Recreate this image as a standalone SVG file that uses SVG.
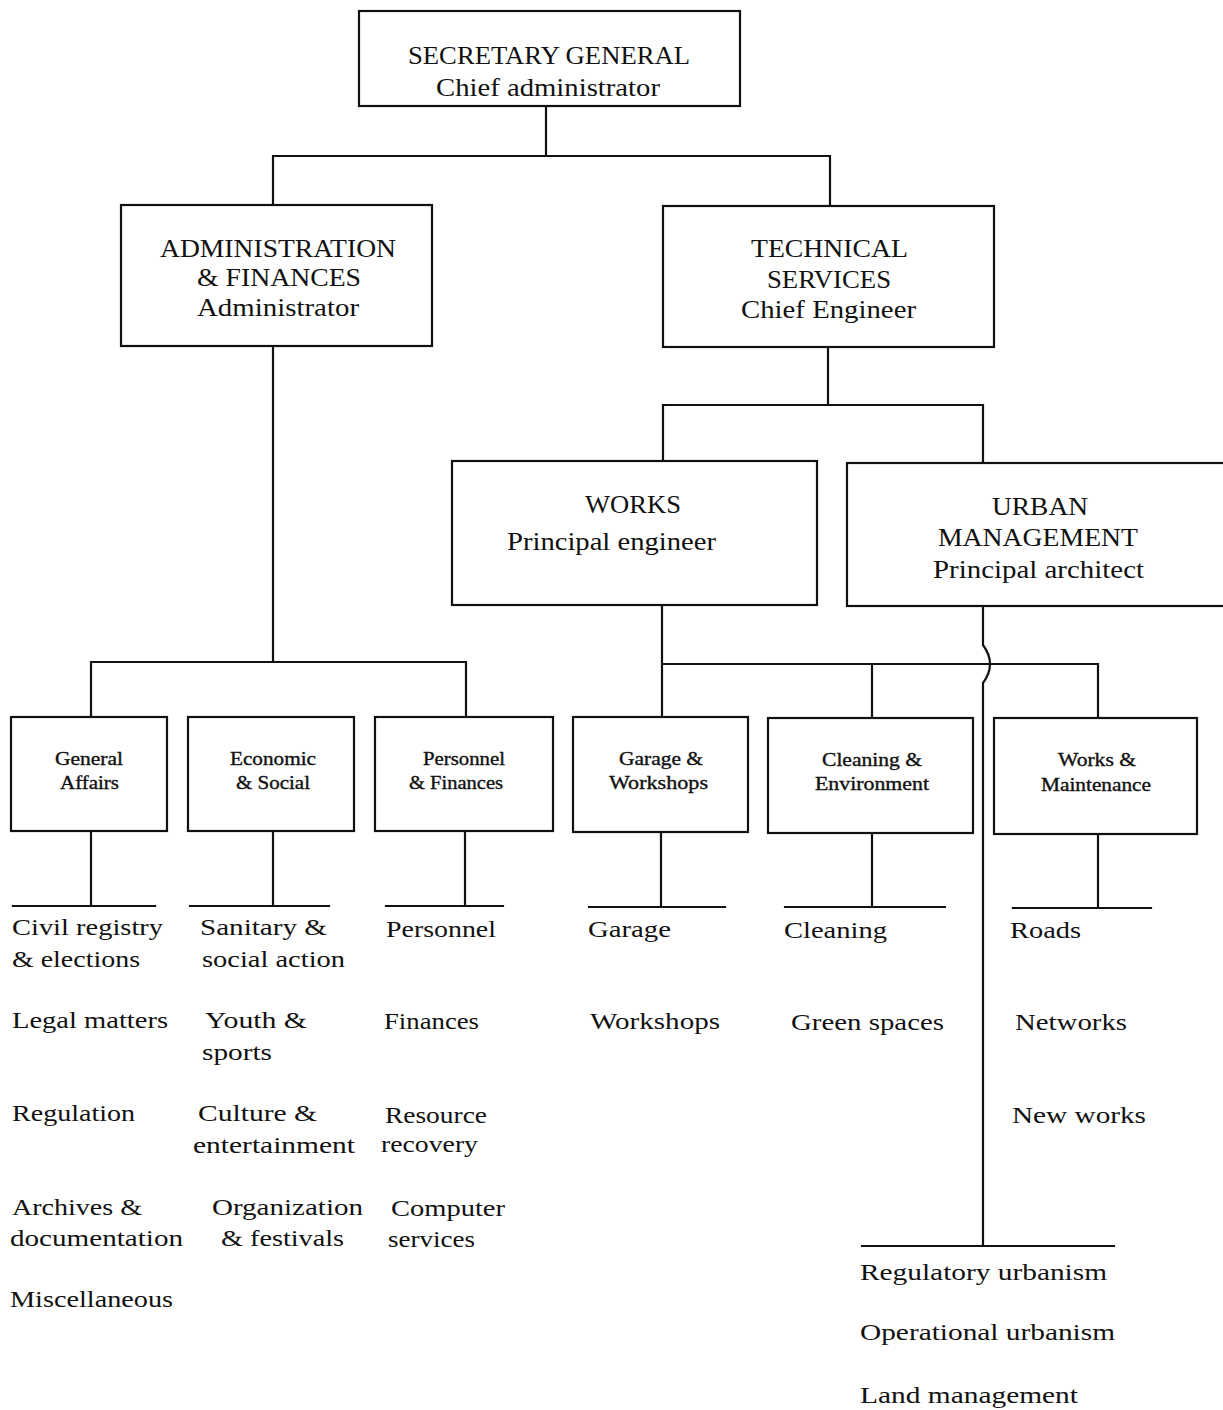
<svg xmlns="http://www.w3.org/2000/svg" width="1223" height="1410" viewBox="0 0 1223 1410">
<style>
.box{fill:#fff;stroke:#111;stroke-width:2.2}
.ln{fill:none;stroke:#111;stroke-width:2.2;stroke-linecap:square}
text{font-family:"Liberation Serif","Times New Roman",serif;fill:#111}
.h{font-size:26px}
.s{font-size:18px;stroke:#111;stroke-width:0.35}
.l{font-size:24px}
</style>
<rect width="1223" height="1410" fill="#fff"/>
<g id="connectors">
<path class="ln" d="M546,106 V156 M273,156 H830 M273,156 V205 M830,156 V206"/>
<path class="ln" d="M828,347 V405 M663,405 H983 M663,405 V461 M983,405 V463"/>
<path class="ln" d="M273,346 V662 M91,662 H466 M91,662 V717 M466,662 V717"/>
<path class="ln" d="M662,605 V717 M662,664 H1098 M872,664 V718 M1098,664 V718"/>
<path class="ln" d="M983,606 V645 Q997,664 983,683 V1246 M862,1246 H1114"/>
<path class="ln" d="M91,831 V906 M13,906 H155"/>
<path class="ln" d="M273,831 V906 M190,906 H329"/>
<path class="ln" d="M465,831 V906 M386,906 H503"/>
<path class="ln" d="M661,832 V907 M589,907 H725"/>
<path class="ln" d="M872,833 V907 M785,907 H945"/>
<path class="ln" d="M1098,834 V908 M1013,908 H1151"/>
</g>
<g id="secretary-general">
<rect class="box" x="359" y="11" width="381" height="95"/>
<text class="h" x="408" y="64" textLength="282" lengthAdjust="spacingAndGlyphs">SECRETARY GENERAL</text>
<text class="h" x="436" y="96" textLength="224" lengthAdjust="spacingAndGlyphs">Chief administrator</text>
</g>
<g id="admin-finances">
<rect class="box" x="121" y="205" width="311" height="141"/>
<text class="h" x="160" y="257" textLength="236" lengthAdjust="spacingAndGlyphs">ADMINISTRATION</text>
<text class="h" x="197" y="286" textLength="164" lengthAdjust="spacingAndGlyphs">&amp; FINANCES</text>
<text class="h" x="197" y="316" textLength="162" lengthAdjust="spacingAndGlyphs">Administrator</text>
</g>
<g id="technical-services">
<rect class="box" x="663" y="206" width="331" height="141"/>
<text class="h" x="751" y="257" textLength="157" lengthAdjust="spacingAndGlyphs">TECHNICAL</text>
<text class="h" x="767" y="288" textLength="124" lengthAdjust="spacingAndGlyphs">SERVICES</text>
<text class="h" x="741" y="318" textLength="175" lengthAdjust="spacingAndGlyphs">Chief Engineer</text>
</g>
<g id="works">
<rect class="box" x="452" y="461" width="365" height="144"/>
<text class="h" x="585" y="513" textLength="96" lengthAdjust="spacingAndGlyphs">WORKS</text>
<text class="h" x="507" y="550" textLength="209" lengthAdjust="spacingAndGlyphs">Principal engineer</text>
</g>
<g id="urban-management">
<rect class="box" x="847" y="463" width="392" height="143"/>
<text class="h" x="992" y="515" textLength="96" lengthAdjust="spacingAndGlyphs">URBAN</text>
<text class="h" x="938" y="546" textLength="200" lengthAdjust="spacingAndGlyphs">MANAGEMENT</text>
<text class="h" x="933" y="578" textLength="211" lengthAdjust="spacingAndGlyphs">Principal architect</text>
</g>
<g id="general-affairs">
<rect class="box" x="11" y="717" width="156" height="114"/>
<text class="s" x="55" y="765" textLength="68" lengthAdjust="spacingAndGlyphs">General</text>
<text class="s" x="60" y="789" textLength="59" lengthAdjust="spacingAndGlyphs">Affairs</text>
</g>
<g id="economic-social">
<rect class="box" x="188" y="717" width="166" height="114"/>
<text class="s" x="230" y="765" textLength="86" lengthAdjust="spacingAndGlyphs">Economic</text>
<text class="s" x="236" y="789" textLength="74" lengthAdjust="spacingAndGlyphs">&amp; Social</text>
</g>
<g id="personnel-finances">
<rect class="box" x="375" y="717" width="178" height="114"/>
<text class="s" x="423" y="765" textLength="82" lengthAdjust="spacingAndGlyphs">Personnel</text>
<text class="s" x="409" y="789" textLength="94" lengthAdjust="spacingAndGlyphs">&amp; Finances</text>
</g>
<g id="garage-workshops">
<rect class="box" x="573" y="717" width="175" height="115"/>
<text class="s" x="619" y="765" textLength="84" lengthAdjust="spacingAndGlyphs">Garage &amp;</text>
<text class="s" x="609" y="789" textLength="99" lengthAdjust="spacingAndGlyphs">Workshops</text>
</g>
<g id="cleaning-environment">
<rect class="box" x="768" y="718" width="205" height="115"/>
<text class="s" x="822" y="766" textLength="100" lengthAdjust="spacingAndGlyphs">Cleaning &amp;</text>
<text class="s" x="815" y="790" textLength="114" lengthAdjust="spacingAndGlyphs">Environment</text>
</g>
<g id="works-maintenance">
<rect class="box" x="994" y="718" width="203" height="116"/>
<text class="s" x="1058" y="766" textLength="78" lengthAdjust="spacingAndGlyphs">Works &amp;</text>
<text class="s" x="1041" y="791" textLength="110" lengthAdjust="spacingAndGlyphs">Maintenance</text>
</g>
<g id="list-general-affairs">
<text class="l" x="12" y="935" textLength="151" lengthAdjust="spacingAndGlyphs">Civil registry</text>
<text class="l" x="12" y="967" textLength="128" lengthAdjust="spacingAndGlyphs">&amp; elections</text>
<text class="l" x="12" y="1028" textLength="156" lengthAdjust="spacingAndGlyphs">Legal matters</text>
<text class="l" x="12" y="1121" textLength="123" lengthAdjust="spacingAndGlyphs">Regulation</text>
<text class="l" x="12" y="1215" textLength="130" lengthAdjust="spacingAndGlyphs">Archives &amp;</text>
<text class="l" x="10" y="1246" textLength="173" lengthAdjust="spacingAndGlyphs">documentation</text>
<text class="l" x="10" y="1307" textLength="163" lengthAdjust="spacingAndGlyphs">Miscellaneous</text>
</g>
<g id="list-economic-social">
<text class="l" x="200" y="935" textLength="127" lengthAdjust="spacingAndGlyphs">Sanitary &amp;</text>
<text class="l" x="202" y="967" textLength="143" lengthAdjust="spacingAndGlyphs">social action</text>
<text class="l" x="205" y="1028" textLength="102" lengthAdjust="spacingAndGlyphs">Youth &amp;</text>
<text class="l" x="202" y="1060" textLength="70" lengthAdjust="spacingAndGlyphs">sports</text>
<text class="l" x="198" y="1121" textLength="119" lengthAdjust="spacingAndGlyphs">Culture &amp;</text>
<text class="l" x="193" y="1153" textLength="162" lengthAdjust="spacingAndGlyphs">entertainment</text>
<text class="l" x="212" y="1215" textLength="151" lengthAdjust="spacingAndGlyphs">Organization</text>
<text class="l" x="221" y="1246" textLength="123" lengthAdjust="spacingAndGlyphs">&amp; festivals</text>
</g>
<g id="list-personnel-finances">
<text class="l" x="386" y="937" textLength="110" lengthAdjust="spacingAndGlyphs">Personnel</text>
<text class="l" x="384" y="1029" textLength="95" lengthAdjust="spacingAndGlyphs">Finances</text>
<text class="l" x="385" y="1123" textLength="102" lengthAdjust="spacingAndGlyphs">Resource</text>
<text class="l" x="381" y="1152" textLength="97" lengthAdjust="spacingAndGlyphs">recovery</text>
<text class="l" x="391" y="1216" textLength="114" lengthAdjust="spacingAndGlyphs">Computer</text>
<text class="l" x="388" y="1247" textLength="87" lengthAdjust="spacingAndGlyphs">services</text>
</g>
<g id="list-garage-workshops">
<text class="l" x="588" y="937" textLength="83" lengthAdjust="spacingAndGlyphs">Garage</text>
<text class="l" x="590" y="1029" textLength="130" lengthAdjust="spacingAndGlyphs">Workshops</text>
</g>
<g id="list-cleaning-environment">
<text class="l" x="784" y="938" textLength="103" lengthAdjust="spacingAndGlyphs">Cleaning</text>
<text class="l" x="791" y="1030" textLength="153" lengthAdjust="spacingAndGlyphs">Green spaces</text>
</g>
<g id="list-works-maintenance">
<text class="l" x="1010" y="938" textLength="71" lengthAdjust="spacingAndGlyphs">Roads</text>
<text class="l" x="1015" y="1030" textLength="112" lengthAdjust="spacingAndGlyphs">Networks</text>
<text class="l" x="1012" y="1123" textLength="134" lengthAdjust="spacingAndGlyphs">New works</text>
</g>
<g id="list-urban-management">
<text class="l" x="860" y="1280" textLength="247" lengthAdjust="spacingAndGlyphs">Regulatory urbanism</text>
<text class="l" x="860" y="1340" textLength="255" lengthAdjust="spacingAndGlyphs">Operational urbanism</text>
<text class="l" x="860" y="1403" textLength="218" lengthAdjust="spacingAndGlyphs">Land management</text>
</g>
</svg>
